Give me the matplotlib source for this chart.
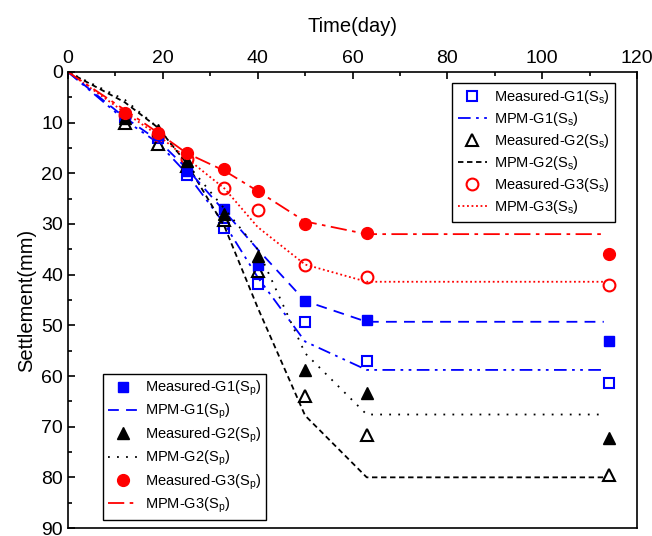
import matplotlib
matplotlib.use('Agg')
import matplotlib.pyplot as plt
from matplotlib.ticker import MultipleLocator

plt.rcParams['font.family'] = ['Liberation Sans', 'DejaVu Sans']
plt.rcParams['mathtext.fontset'] = 'custom'
plt.rcParams['mathtext.rm'] = 'Liberation Sans'
plt.rcParams['mathtext.it'] = 'Liberation Sans'

# measurement days and model days
days = [12, 19, 25, 33, 40, 50, 63, 114]
model_days = [0, 12, 19, 25, 33, 40, 50, 63, 113]

# measured settlement (mm)
g1_sp = [8.5, 12.5, 19.5, 27.0, 38.1, 45.1, 49.0, 53.0]
g1_ss = [8.8, 13.0, 20.3, 30.7, 41.9, 49.4, 57.0, 61.3]
g2_sp = [9.0, 11.5, 17.5, 28.0, 36.3, 58.8, 63.3, 72.3]
g2_ss = [10.0, 14.3, 18.5, 29.2, 39.2, 64.0, 71.6, 79.6]
g3_sp = [8.0, 12.0, 16.0, 19.2, 23.5, 30.0, 31.8, 36.0]
g3_ss = [8.5, 12.5, 17.2, 22.8, 27.2, 38.0, 40.5, 42.0]

# MPM predictions (mm)
mpm_g1_sp = [0, 9.0, 13.5, 19.0, 27.5, 35.0, 45.2, 49.3, 49.3]
mpm_g1_ss = [0, 9.5, 14.0, 20.0, 30.0, 40.5, 53.2, 58.8, 58.8]
mpm_g2_sp = [0, 5.5, 11.0, 18.0, 27.0, 35.0, 55.5, 67.6, 67.6]
mpm_g2_ss = [0, 6.0, 11.0, 18.0, 30.5, 46.5, 67.8, 80.0, 80.0]
mpm_g3_sp = [0, 7.5, 12.0, 16.0, 19.5, 23.5, 29.5, 32.0, 32.0]
mpm_g3_ss = [0, 8.0, 12.5, 17.0, 23.0, 30.6, 38.0, 41.4, 41.4]

ss = r'(S$_\mathregular{s}$)'
sp = r'(S$_\mathregular{p}$)'

fig = plt.figure(figsize=(6.52, 5.36), dpi=100)
ax = fig.add_axes([0.1043, 0.0149, 0.8727, 0.8508])

lw = 1.3
blue, black, red = '#0000ff', 'black', '#ff0000'

# Ss group
h_ss = []
h_ss.append(ax.plot(days, g1_ss, 's', ms=7, mfc='none', mec=blue, mew=1.5, ls='none',
                    label='Measured-G1' + ss)[0])
h_ss.append(ax.plot(model_days, mpm_g1_ss, color=blue, lw=lw, ls=(0, (7, 3, 1.5, 3, 1.5, 3)),
                    label='MPM-G1' + ss)[0])
h_ss.append(ax.plot(days, g2_ss, '^', ms=9, mfc='none', mec=black, mew=1.5, ls='none',
                    label='Measured-G2' + ss)[0])
h_ss.append(ax.plot(model_days, mpm_g2_ss, color=black, lw=lw, ls=(0, (3, 2)),
                    label='MPM-G2' + ss)[0])
h_ss.append(ax.plot(days, g3_ss, 'o', ms=8.5, mfc='none', mec=red, mew=1.5, ls='none',
                    label='Measured-G3' + ss)[0])
h_ss.append(ax.plot(model_days, mpm_g3_ss, color=red, lw=lw, ls=(0, (1, 1.5)),
                    label='MPM-G3' + ss)[0])

# Sp group
h_sp = []
h_sp.append(ax.plot(days, g1_sp, 's', ms=7, color=blue, ls='none',
                    label='Measured-G1' + sp)[0])
h_sp.append(ax.plot(model_days, mpm_g1_sp, color=blue, lw=lw, ls=(0, (6, 4)),
                    label='MPM-G1' + sp)[0])
h_sp.append(ax.plot(days, g2_sp, '^', ms=9, color=black, ls='none',
                    label='Measured-G2' + sp)[0])
h_sp.append(ax.plot(model_days, mpm_g2_sp, color=black, lw=lw, ls=(0, (1, 4)),
                    label='MPM-G2' + sp)[0])
h_sp.append(ax.plot(days, g3_sp, 'o', ms=8.5, color=red, ls='none',
                    label='Measured-G3' + sp)[0])
h_sp.append(ax.plot(model_days, mpm_g3_sp, color=red, lw=lw, ls=(0, (9, 3, 2, 3)),
                    label='MPM-G3' + sp)[0])

ax.set_xlim(0, 120)
ax.set_ylim(90, 0)
ax.xaxis.tick_top()
ax.xaxis.set_label_position('top')
ax.set_xlabel('Time(day)', fontsize=14.5, labelpad=13)
ax.set_ylabel('Settlement(mm)', fontsize=14.5, labelpad=4)
ax.xaxis.set_major_locator(MultipleLocator(20))
ax.xaxis.set_minor_locator(MultipleLocator(10))
ax.yaxis.set_major_locator(MultipleLocator(10))
ax.yaxis.set_minor_locator(MultipleLocator(5))
ax.tick_params(which='both', direction='in', labelsize=14, width=1.2)
ax.tick_params(which='major', length=5)
ax.tick_params(which='minor', length=3)
for s in ax.spines.values():
    s.set_linewidth(1.2)

leg_kw = dict(fontsize=10.5, frameon=True, fancybox=False, edgecolor='black',
              framealpha=1, borderaxespad=0, handlelength=2.0, handletextpad=0.5,
              labelspacing=0.28, borderpad=0.35)
leg1 = ax.legend(handles=h_ss, loc='upper right', bbox_to_anchor=(0.961, 0.976), **leg_kw)
leg1.get_frame().set_linewidth(1.0)
ax.add_artist(leg1)
leg2 = ax.legend(handles=h_sp, loc='lower left', bbox_to_anchor=(0.0615, 0.0175), **leg_kw)
leg2.get_frame().set_linewidth(1.0)

fig.savefig('out.png', dpi=100)
